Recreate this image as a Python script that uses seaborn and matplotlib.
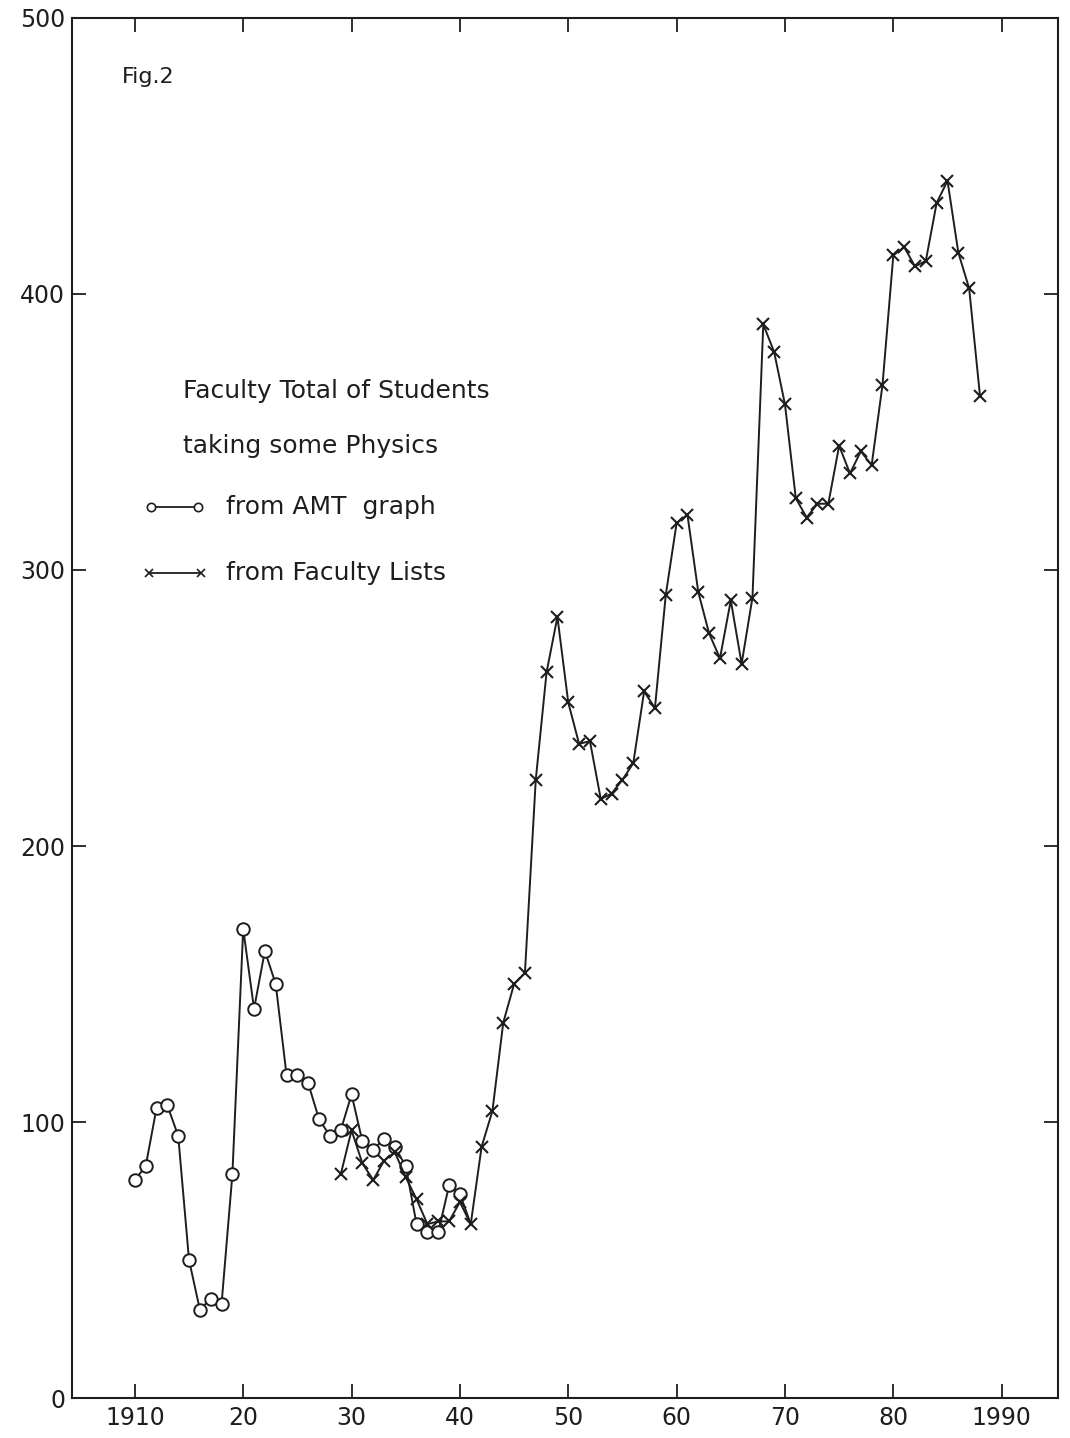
import matplotlib
matplotlib.use("Agg")
import matplotlib.pyplot as plt
from matplotlib.lines import Line2D
import seaborn as sns
import pandas as pd

# ---- data ----
amt_years = list(range(1910, 1942))
amt_values = [79, 84, 105, 106, 95, 50, 32, 36, 34, 81,
              170, 141, 162, 150, 117, 117, 114, 101, 95, 97,
              110, 93, 90, 94, 91, 84, 63, 60, 60, 77,
              74, 63]

fac_years = list(range(1929, 1989))
fac_values = [81, 97, 85, 79, 86, 89, 80, 72, 63, 64,
              64, 71, 63, 91, 104, 136, 150, 154, 224, 263,
              283, 252, 237, 238, 217, 219, 224, 230, 256, 250,
              291, 317, 320, 292, 277, 268, 289, 266, 290, 389,
              379, 360, 326, 319, 324, 324, 345, 335, 343, 338,
              367, 414, 417, 410, 412, 433, 441, 415, 402, 363]

x_ticks = [1910, 1920, 1930, 1940, 1950, 1960, 1970, 1980, 1990]
x_tick_labels = ["1910", "20", "30", "40", "50", "60", "70", "80", "1990"]
y_ticks = [0, 100, 200, 300, 400, 500]
y_tick_labels = ["0", "100", "200", "300", "400", "500"]

title_text = "Fig.2"
legend_head = ["Faculty Total of Students", "taking some Physics"]
series_labels = ["from AMT  graph", "from Faculty Lists"]

# ---- styling ----
sns.set_theme(style="ticks")
plt.rcParams["font.family"] = ["DejaVu Sans"]
ink = "#1e1e1e"

fig = plt.figure(figsize=(10.70, 14.38), dpi=100)
fig.patch.set_facecolor("white")
ax = fig.add_axes([0.0673, 0.0278, 0.9215, 0.9597])
ax.set_facecolor("white")

amt_df = pd.DataFrame({"year": amt_years, "value": amt_values})
fac_df = pd.DataFrame({"year": fac_years, "value": fac_values})

sns.lineplot(data=amt_df, x="year", y="value", ax=ax, color=ink, linewidth=1.4,
             marker="o", markersize=9, markerfacecolor="white",
             markeredgecolor=ink, markeredgewidth=1.4,
             markevery=list(range(len(amt_years) - 1)), zorder=3)
sns.lineplot(data=fac_df, x="year", y="value", ax=ax, color=ink, linewidth=1.4,
             marker="x", markersize=9, markeredgecolor=ink,
             markeredgewidth=1.5, zorder=3)

ax.set_xlim(1904.2, 1995.2)
ax.set_ylim(0, 500)
ax.set_xticks(x_ticks)
ax.set_xticklabels(x_tick_labels)
ax.set_yticks(y_ticks)
ax.set_yticklabels(y_tick_labels)
ax.set_xlabel("")
ax.set_ylabel("")

for s in ax.spines.values():
    s.set_visible(True)
    s.set_color(ink)
    s.set_linewidth(1.5)

ax.tick_params(axis="both", direction="in", length=10, width=1.3, color=ink,
               labelsize=17, labelcolor=ink, top=True, right=True, pad=6)
ax.tick_params(axis="y", pad=5)

# figure label
ax.text(0.051, 0.957, title_text, transform=ax.transAxes, fontsize=16,
        color=ink, va="center", ha="left")

# legend-like annotation
ax.text(0.113, 0.730, legend_head[0], transform=ax.transAxes, fontsize=18,
        color=ink, va="center", ha="left")
ax.text(0.113, 0.690, legend_head[1], transform=ax.transAxes, fontsize=18,
        color=ink, va="center", ha="left")

ly1, ly2 = 0.646, 0.598
ax.add_line(Line2D([0.080, 0.128], [ly1, ly1], transform=ax.transAxes,
                   color=ink, linewidth=1.3, marker="o", markersize=6,
                   markerfacecolor="white", markeredgecolor=ink,
                   markeredgewidth=1.2))
ax.add_line(Line2D([0.078, 0.131], [ly2, ly2], transform=ax.transAxes,
                   color=ink, linewidth=1.3, marker="x", markersize=6,
                   markeredgecolor=ink, markeredgewidth=1.2))
ax.text(0.156, ly1, series_labels[0], transform=ax.transAxes, fontsize=18,
        color=ink, va="center", ha="left")
ax.text(0.156, ly2, series_labels[1], transform=ax.transAxes, fontsize=18,
        color=ink, va="center", ha="left")

fig.savefig("out.png", dpi=100, facecolor="white")
